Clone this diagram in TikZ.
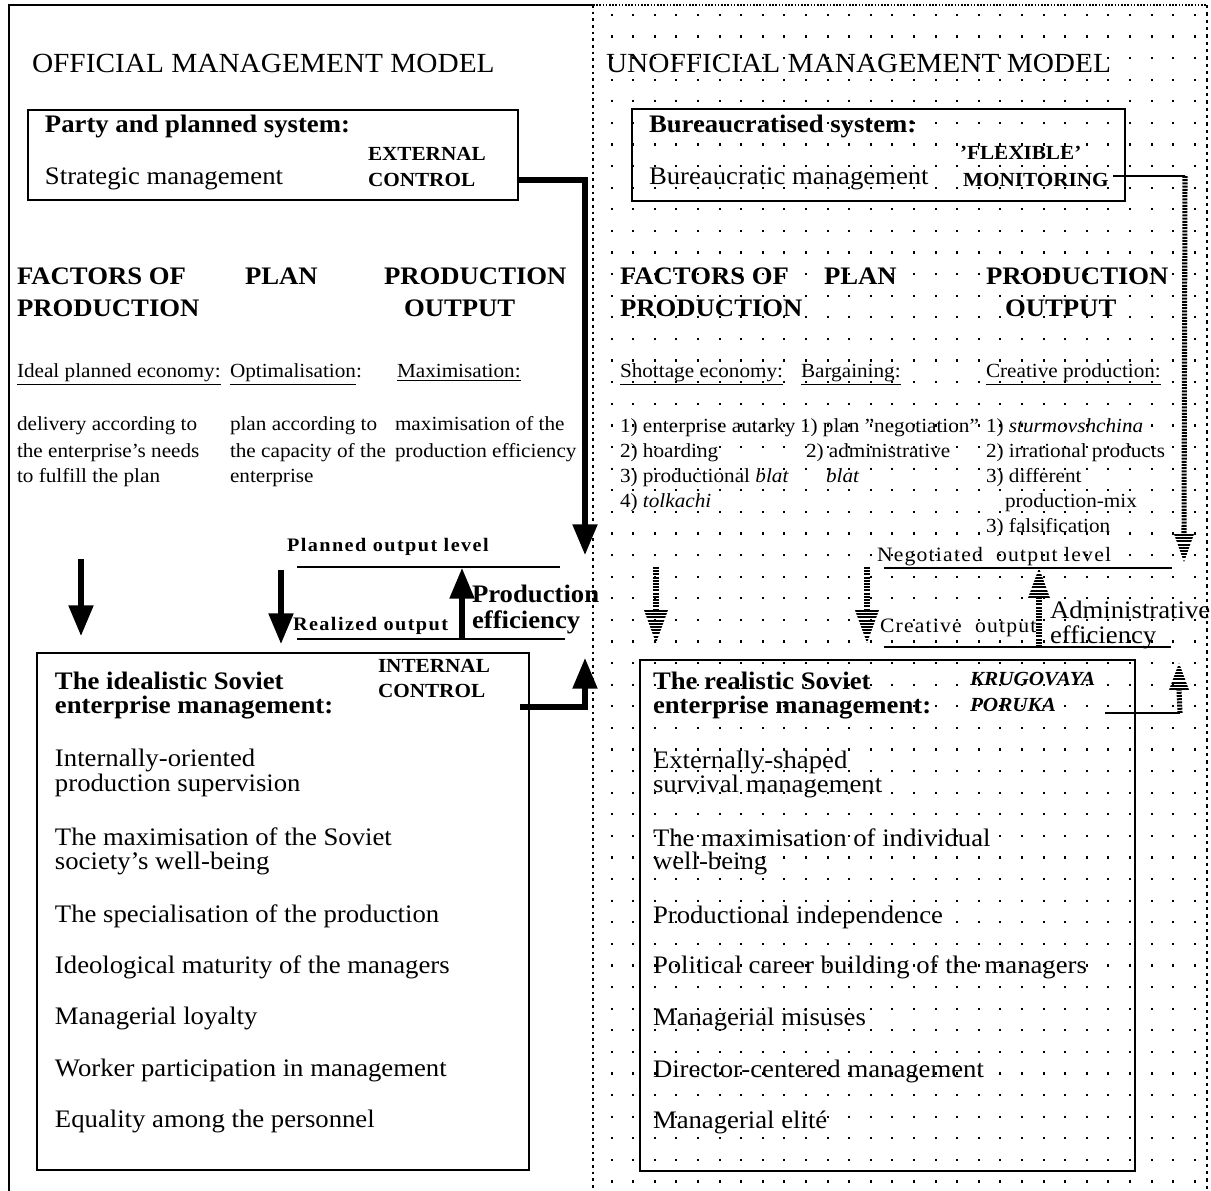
\documentclass[tikz,border=0pt]{standalone}
\usepackage{fontspec}
\setmainfont{Liberation Serif}[FakeStretch=1.06]
\usetikzlibrary{arrows.meta,fit,calc}
\newcommand\fTitle{\fontsize{20.75}{25}\selectfont}
\newcommand\fBody{\fontsize{18.9}{22}\selectfont}
\newcommand\fMed{\fontsize{15}{18}\selectfont}
\newcommand\fLab{\fontsize{14.3}{17}\selectfont\addfontfeature{LetterSpace=7.5}}
\newcommand\fLabR{\fontsize{15.3}{18}\selectfont\addfontfeature{LetterSpace=6}}
\newcommand\stripeArrow[4]{%
  \draw[stripe] (#1) -- (#2);
  \begin{scope}
    \clip ($(#2)+(-#4,0)$) -- ($(#2)+(#4,0)$) -- (#3) -- cycle;
    \draw[stripe, line width=30pt] (#2) -- (#3);
  \end{scope}}
\begin{document}
\begin{tikzpicture}[x=0.75pt,y=-0.75pt,
  txt/.style={anchor=base west,inner sep=0pt,outer sep=0pt},
  frame/.style={draw,line width=1.5pt,inner sep=0pt,outer sep=0pt},
  bigarrow/.style={line width=3.9pt,-{Triangle[width=18pt,length=23pt]}},
  levelline/.style={line width=1.4pt},
  thinconn/.style={line width=1.6pt},
  stripe/.style={line width=3.8pt,dash pattern=on 1.5pt off 0.9pt}]
\useasboundingbox (0,0) rectangle (1211,1191);
\fill[white] (0,0) rectangle (1211,1191);

% dotted background of the right panel
\foreach \i in {0,...,27}{\foreach \j in {0,...,54}{
  \fill ({611.5+21.6*\i-1},{15+21.6*\j-1.1}) rectangle ++(2,2.2);}}

% frame
\coordinate (fBL) at (9,1191);
\coordinate (fTL) at (9,5);
\coordinate (fTM) at (593,5);
\coordinate (fTR) at (1207,5);
\coordinate (fBM) at (593,1191);
\coordinate (fBR) at (1207,1191);
\draw[line width=1.5pt] (fBL) -- (fTL) -- (fTM);
\draw[line width=1.1pt,dash pattern=on 1.2pt off 1.2pt] (fTM) -- (fTR);
\draw[line width=0.8pt,dash pattern=on 2.5pt off 3pt] (fTR) -- (fBR);
\draw[line width=2.2pt,dash pattern=on 1.9pt off 3.1pt] (fTM) -- (fBM);

% ================= LEFT: official model =================
\node[txt,font=\fTitle] (offTitle) at (32,73) {OFFICIAL MANAGEMENT MODEL};

\coordinate (pA) at (28,110); \coordinate (pB) at (518,200);
\node[frame,fill=white,fit=(pA)(pB)] (party) {};
\node[txt,font=\fBody\bfseries] (partyT) at (45,133) {Party and planned system:};
\node[txt,font=\fBody] (strat) at (45,185) {Strategic management};
\node[txt,font=\fMed\bfseries] (ext1) at (368,161) {EXTERNAL};
\node[txt,font=\fMed\bfseries] (ext2) at (368,187) {CONTROL};

\node[txt,font=\fBody\bfseries] (lh1a) at (17,285) {FACTORS OF};
\node[txt,font=\fBody\bfseries] (lh1b) at (17,317) {PRODUCTION};
\node[txt,font=\fBody\bfseries] (lh2) at (245,285) {PLAN};
\node[txt,font=\fBody\bfseries] (lh3a) at (384,285) {PRODUCTION};
\node[txt,font=\fBody\bfseries] (lh3b) at (404,317) {OUTPUT};

\node[txt,font=\fMed] (ll1) at (17,378) {\underline{Ideal planned economy:}};
\node[txt,font=\fMed] (ll2) at (230,378) {\underline{Optimalisation}:};
\node[txt,font=\fMed] (ll3) at (397,378) {\underline{Maximisation:}};

\node[txt,font=\fMed] (lc1a) at (17,431) {delivery according to};
\node[txt,font=\fMed] (lc1b) at (17,457) {the enterprise’s needs};
\node[txt,font=\fMed] (lc1c) at (17,482) {to fulfill the plan};
\node[txt,font=\fMed] (lc2a) at (230,431) {plan according to};
\node[txt,font=\fMed] (lc2b) at (230,457) {the capacity of the};
\node[txt,font=\fMed] (lc2c) at (230,482) {enterprise};
\node[txt,font=\fMed] (lc3a) at (395,431) {maximisation of the};
\node[txt,font=\fMed] (lc3b) at (395,457) {production efficiency};

\node[txt,font=\fLab\bfseries] (plannedT) at (287,551) {Planned output level};
\coordinate (pl1) at (297,567); \coordinate (pl2) at (560,567);
\draw[levelline] (pl1) -- (pl2);
\node[txt,font=\fLab\bfseries] (realT) at (293,630) {Realized output};
\coordinate (rl1) at (297,639); \coordinate (rl2) at (565,639);
\draw[levelline] (rl1) -- (rl2);
\node[txt,font=\fBody\bfseries] (pe1) at (472,602) {Production};
\node[txt,font=\fBody\bfseries] (pe2) at (472,628) {efficiency};

\coordinate (peTail) at (462,639); \coordinate (peTip) at (462,568);
\draw[bigarrow] (peTail) -- (peTip);
\coordinate (da1s) at (81,559); \coordinate (da1e) at (81,636);
\draw[bigarrow] (da1s) -- (da1e);
\coordinate (da2s) at (281,570); \coordinate (da2e) at (281,644);
\draw[bigarrow] (da2s) -- (da2e);

\coordinate (iA) at (37,653); \coordinate (iB) at (529,1170);
\node[frame,fill=white,fit=(iA)(iB)] (ideal) {};
\node[txt,font=\fBody\bfseries] (idT1) at (55,689) {The idealistic Soviet};
\node[txt,font=\fBody\bfseries] (idT2) at (55,713) {enterprise management:};
\node[txt,font=\fMed\bfseries] (int1) at (378,672) {INTERNAL};
\node[txt,font=\fMed\bfseries] (int2) at (378,697) {CONTROL};
\node[txt,font=\fBody] (id1a) at (55,766) {Internally-oriented};
\node[txt,font=\fBody] (id1b) at (55,791) {production supervision};
\node[txt,font=\fBody] (id2a) at (55,845) {The maximisation of the Soviet};
\node[txt,font=\fBody] (id2b) at (55,869) {society’s well-being};
\node[txt,font=\fBody] (id3) at (55,922) {The specialisation of the production};
\node[txt,font=\fBody] (id4) at (55,973) {Ideological maturity of the managers};
\node[txt,font=\fBody] (id5) at (55,1024) {Managerial loyalty};
\node[txt,font=\fBody] (id6) at (55,1076) {Worker participation in management};
\node[txt,font=\fBody] (id7) at (55,1127) {Equality among the personnel};

\coordinate (extBend) at (585,180); \coordinate (extTip) at (585,555);
\draw[bigarrow] (party.east |- extBend) -- (extBend) -- (extTip);
\coordinate (intBend) at (585,707); \coordinate (intTip) at (585,658);
\draw[bigarrow] ($(ideal.east |- intBend)+(-9,0)$) -- (intBend) -- (intTip);

% ================= RIGHT: unofficial model =================
\node[txt,font=\fTitle] (unTitle) at (606,73) {UNOFFICIAL MANAGEMENT MODEL};

\coordinate (bA) at (632,109); \coordinate (bB) at (1125,201);
\node[frame,fit=(bA)(bB)] (bureau) {};
\node[txt,font=\fBody\bfseries] (buT) at (649,133) {Bureaucratised system:};
\node[txt,font=\fBody] (buM) at (649,185) {Bureaucratic management};
\node[txt,font=\fMed\bfseries] (flex1) at (960,160) {’FLEXIBLE’};
\node[txt,font=\fMed\bfseries] (flex2) at (963,187) {MONITORING};

\node[txt,font=\fBody\bfseries] (rh1a) at (620,285) {FACTORS OF};
\node[txt,font=\fBody\bfseries] (rh1b) at (620,317) {PRODUCTION};
\node[txt,font=\fBody\bfseries] (rh2) at (824,285) {PLAN};
\node[txt,font=\fBody\bfseries] (rh3a) at (986,285) {PRODUCTION};
\node[txt,font=\fBody\bfseries] (rh3b) at (1005,317) {OUTPUT};

\node[txt,font=\fMed] (rl1t) at (620,378) {\underline{Shottage economy:}};
\node[txt,font=\fMed] (rl2t) at (801,378) {\underline{Bargaining:}};
\node[txt,font=\fMed] (rl3t) at (986,378) {\underline{Creative production:}};

\node[txt,font=\fMed] (rc1a) at (620,432) {1) enterprise autarky};
\node[txt,font=\fMed] (rc1b) at (620,457) {2) hoarding};
\node[txt,font=\fMed] (rc1c) at (620,482) {3) productional \textit{blat}};
\node[txt,font=\fMed] (rc1d) at (620,507) {4) \textit{tolkachi}};
\node[txt,font=\fMed] (rc2a) at (800,432) {1) plan ”negotiation”};
\node[txt,font=\fMed] (rc2b) at (806,457) {2) administrative};
\node[txt,font=\fMed] (rc2c) at (826,482) {\textit{blat}};
\node[txt,font=\fMed] (rc3a) at (986,432) {1) \textit{sturmovshchina}};
\node[txt,font=\fMed] (rc3b) at (986,457) {2) irrational products};
\node[txt,font=\fMed] (rc3c) at (986,482) {3) different};
\node[txt,font=\fMed] (rc3d) at (1005,507) {production-mix};
\node[txt,font=\fMed] (rc3e) at (986,532) {3) falsification};

\node[txt,font=\fLabR] (negT) at (877,561) {Negotiated\ \ output level};
\coordinate (ng1) at (884,568); \coordinate (ng2) at (1172,568);
\draw[levelline] (ng1) -- (ng2);
\node[txt,font=\fLabR] (creT) at (880,632) {Creative\ \ output};
\coordinate (cr1) at (884,647); \coordinate (cr2) at (1171,647);
\draw[levelline] (cr1) -- (cr2);
\node[txt,font=\fBody] (ae1) at (1050,618) {Administrative};
\node[txt,font=\fBody] (ae2) at (1050,643) {efficiency};

\coordinate (s1t) at (656,567); \coordinate (s1b) at (656,610); \coordinate (s1p) at (656,643);
\stripeArrow{s1t}{s1b}{s1p}{12}
\coordinate (s2t) at (867,567); \coordinate (s2b) at (867,610); \coordinate (s2p) at (867,643);
\stripeArrow{s2t}{s2b}{s2p}{12}
\coordinate (s3t) at (1039,647); \coordinate (s3b) at (1039,598); \coordinate (s3p) at (1039,568);
\stripeArrow{s3t}{s3b}{s3p}{11}

\coordinate (monBend) at (1185,176);
\draw[thinconn] ($(bureau.east |- monBend)+(-12,0)$) -- (monBend);
\coordinate (s4b) at (1184,534); \coordinate (s4p) at (1184,562);
\stripeArrow{monBend}{s4b}{s4p}{10}

\coordinate (rA) at (640,660); \coordinate (rB) at (1135,1171);
\node[frame,fit=(rA)(rB)] (real) {};
\node[txt,font=\fBody\bfseries] (reT1) at (653,689) {The realistic Soviet};
\node[txt,font=\fBody\bfseries] (reT2) at (653,713) {enterprise management:};
\node[txt,font=\fMed\bfseries\itshape] (kr1) at (970,685) {KRUGOVAYA};
\node[txt,font=\fMed\bfseries\itshape] (kr2) at (970,711) {PORUKA};
\node[txt,font=\fBody] (re1a) at (653,768) {Externally-shaped};
\node[txt,font=\fBody] (re1b) at (653,792) {survival management};
\node[txt,font=\fBody] (re2a) at (653,846) {The maximisation of individual};
\node[txt,font=\fBody] (re2b) at (653,869) {well-being};
\node[txt,font=\fBody] (re3) at (653,923) {Productional independence};
\node[txt,font=\fBody] (re4) at (653,973) {Political career building of the managers};
\node[txt,font=\fBody] (re5) at (653,1025) {Managerial misuses};
\node[txt,font=\fBody] (re6) at (653,1077) {Director-centered management};
\node[txt,font=\fBody] (re7) at (653,1128) {Managerial elité};

\coordinate (krBend) at (1180,713);
\draw[thinconn] ($(real.east |- krBend)+(-30,0)$) -- (krBend);
\coordinate (s5b) at (1179,690); \coordinate (s5p) at (1179,663);
\stripeArrow{krBend}{s5b}{s5p}{10}
\end{tikzpicture}
\end{document}
